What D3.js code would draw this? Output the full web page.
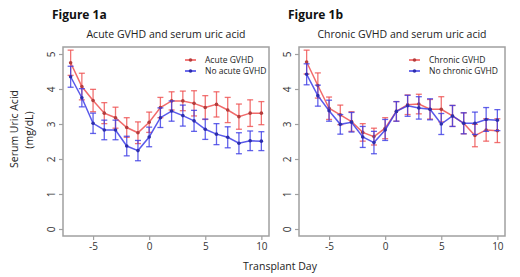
<!DOCTYPE html>
<html>
<head>
<meta charset="utf-8">
<script src="https://cdn.jsdelivr.net/npm/d3@7"></script>
<style>
  body { margin: 0; background: #fff; }
  svg { display: block; }
</style>
</head>
<body>
<div id="chart"></div>
<script>
// transplant days
const days = d3.range(-7, 11);

// Figure 1a: acute GVHD
const acuteMean = [4.75, 4.07, 3.67, 3.31, 3.18, 2.90, 2.75, 3.05, 3.47, 3.66, 3.66, 3.59, 3.47, 3.56, 3.40, 3.21, 3.31, 3.31];
const acuteErr  = [0.36, 0.38, 0.32, 0.30, 0.30, 0.28, 0.31, 0.29, 0.29, 0.26, 0.28, 0.36, 0.34, 0.36, 0.36, 0.36, 0.38, 0.33];
const noAcuteMean = [4.35, 3.75, 3.02, 2.83, 2.83, 2.37, 2.24, 2.63, 3.18, 3.37, 3.24, 3.09, 2.85, 2.71, 2.62, 2.45, 2.52, 2.51];
const noAcuteErr  = [0.30, 0.26, 0.29, 0.28, 0.28, 0.28, 0.29, 0.28, 0.28, 0.29, 0.30, 0.30, 0.29, 0.30, 0.30, 0.30, 0.28, 0.27];

// Figure 1b: chronic GVHD
const chronicMean = [4.77, 4.10, 3.45, 3.26, 3.07, 2.76, 2.64, 2.88, 3.36, 3.55, 3.57, 3.42, 3.42, 3.23, 3.02, 2.67, 2.83, 2.81];
const chronicErr  = [0.34, 0.36, 0.32, 0.28, 0.28, 0.25, 0.24, 0.30, 0.28, 0.28, 0.28, 0.28, 0.36, 0.30, 0.30, 0.32, 0.32, 0.34];
const noChronicMean = [4.42, 3.81, 3.38, 2.99, 3.05, 2.63, 2.47, 2.83, 3.36, 3.52, 3.46, 3.42, 3.00, 3.23, 3.02, 3.02, 3.13, 3.11];
const noChronicErr  = [0.30, 0.30, 0.30, 0.28, 0.28, 0.30, 0.32, 0.30, 0.28, 0.30, 0.32, 0.30, 0.30, 0.30, 0.30, 0.32, 0.34, 0.30];

const xTicks = [-5, 0, 5, 10];
const yTicks = [0, 1, 2, 3, 4, 5];

const RED = "#ef5050";
const BLUE = "#3c3ce6";
const font = "'Open Sans', 'Noto Sans', sans-serif";

const svg = d3.select("#chart").append("svg")
    .attr("width", 520)
    .attr("height", 277);

const y = d3.scaleLinear().domain([-0.2, 5.2]).range([236, 47]);

const panels = [
    {
        fig: "Figure 1a", figX: 52, title: "Acute GVHD and serum uric acid",
        left: 63, right: 269,
        series: [
            { name: "Acute GVHD", mean: acuteMean, err: acuteErr, color: RED },
            { name: "No acute GVHD", mean: noAcuteMean, err: noAcuteErr, color: BLUE }
        ],
        legendX: 185
    },
    {
        fig: "Figure 1b", figX: 288, title: "Chronic GVHD and serum uric acid",
        left: 299, right: 505,
        series: [
            { name: "Chronic GVHD", mean: chronicMean, err: chronicErr, color: RED },
            { name: "No chronic GVHD", mean: noChronicMean, err: noChronicErr, color: BLUE }
        ],
        legendX: 409
    }
];

panels.forEach(p => {
    const x = d3.scaleLinear().domain([-7.68, 10.68]).range([p.left, p.right]);
    const g = svg.append("g");

    // figure label
    g.append("text")
        .attr("x", p.figX).attr("y", 19)
        .style("font-family", font).style("font-weight", "bold")
        .style("font-size", "12px").style("fill", "#111")
        .text(p.fig);

    // panel title
    g.append("text")
        .attr("x", (p.left + p.right) / 2).attr("y", 38)
        .attr("text-anchor", "middle")
        .style("font-family", font).style("font-size", "10.5px").style("fill", "#222")
        .text(p.title);

    // box
    g.append("rect")
        .attr("x", p.left).attr("y", 47)
        .attr("width", p.right - p.left).attr("height", 236 - 47)
        .attr("fill", "none").attr("stroke", "#a0a0a0").attr("stroke-width", 1.5);

    // x axis
    const xAxis = g.append("g")
        .attr("transform", "translate(0,236)")
        .call(d3.axisBottom(x).tickValues(xTicks).tickFormat(d => String(d)).tickSize(4).tickSizeOuter(0));
    xAxis.select(".domain").remove();
    xAxis.selectAll("line").attr("stroke", "#a0a0a0").attr("stroke-width", 1.2);
    xAxis.selectAll("text")
        .attr("y", 7)
        .style("font-family", font).style("font-size", "10px").style("fill", "#333");

    // y axis, labels parallel to the axis
    const yAxis = g.append("g")
        .attr("transform", `translate(${p.left},0)`)
        .call(d3.axisLeft(y).tickValues(yTicks).tickFormat(d => String(d)).tickSize(4).tickSizeOuter(0));
    yAxis.select(".domain").remove();
    yAxis.selectAll("line").attr("stroke", "#a0a0a0").attr("stroke-width", 1.2);
    yAxis.selectAll("text")
        .attr("x", 0).attr("dy", 0)
        .attr("transform", "translate(-8,0) rotate(-90)")
        .attr("text-anchor", "middle")
        .style("font-family", font).style("font-size", "10px").style("fill", "#333");

    const line = d3.line().x((d, i) => x(days[i])).y(d => y(d));

    p.series.forEach(s => {
        const sg = g.append("g");
        // error bars
        const eb = sg.selectAll(".eb").data(s.mean).enter().append("g");
        eb.append("line")
            .attr("x1", (d, i) => x(days[i])).attr("x2", (d, i) => x(days[i]))
            .attr("y1", (d, i) => y(d - s.err[i])).attr("y2", (d, i) => y(d + s.err[i]));
        eb.append("line")
            .attr("x1", (d, i) => x(days[i]) - 3).attr("x2", (d, i) => x(days[i]) + 3)
            .attr("y1", (d, i) => y(d + s.err[i])).attr("y2", (d, i) => y(d + s.err[i]));
        eb.append("line")
            .attr("x1", (d, i) => x(days[i]) - 3).attr("x2", (d, i) => x(days[i]) + 3)
            .attr("y1", (d, i) => y(d - s.err[i])).attr("y2", (d, i) => y(d - s.err[i]));
        eb.selectAll("line").attr("stroke", s.color).attr("stroke-width", 1.3).attr("opacity", 0.8);

        sg.append("path")
            .datum(s.mean)
            .attr("d", line)
            .attr("fill", "none")
            .attr("stroke", s.color)
            .attr("stroke-width", 1.5)
            .attr("opacity", 0.85);

        sg.selectAll(".pt").data(s.mean).enter().append("circle")
            .attr("cx", (d, i) => x(days[i])).attr("cy", d => y(d))
            .attr("r", 1.8)
            .attr("fill", d3.color(s.color).darker(0.8));
    });

    // legend
    p.series.forEach((s, i) => {
        const ly = 60 + i * 11;
        g.append("line")
            .attr("x1", p.legendX).attr("x2", p.legendX + 11)
            .attr("y1", ly).attr("y2", ly)
            .attr("stroke", s.color).attr("stroke-width", 1.5);
        g.append("circle")
            .attr("cx", p.legendX + 5.5).attr("cy", ly).attr("r", 1.8)
            .attr("fill", d3.color(s.color).darker(0.8));
        g.append("text")
            .attr("x", p.legendX + 20).attr("y", ly + 3)
            .style("font-family", font).style("font-size", "8.5px").style("fill", "#222")
            .text(s.name);
    });
});

// shared axis labels
svg.append("text")
    .attr("transform", "translate(18,129) rotate(-90)")
    .attr("text-anchor", "middle")
    .style("font-family", font).style("font-size", "10.5px").style("fill", "#222")
    .text("Serum Uric Acid");
svg.append("text")
    .attr("transform", "translate(33,130) rotate(-90)")
    .attr("text-anchor", "middle")
    .style("font-family", font).style("font-size", "10.5px").style("fill", "#222")
    .text("(mg/dL)");

svg.append("text")
    .attr("x", 280).attr("y", 270)
    .attr("text-anchor", "middle")
    .style("font-family", font).style("font-size", "10.5px").style("fill", "#222")
    .text("Transplant Day");
</script>
</body>
</html>
